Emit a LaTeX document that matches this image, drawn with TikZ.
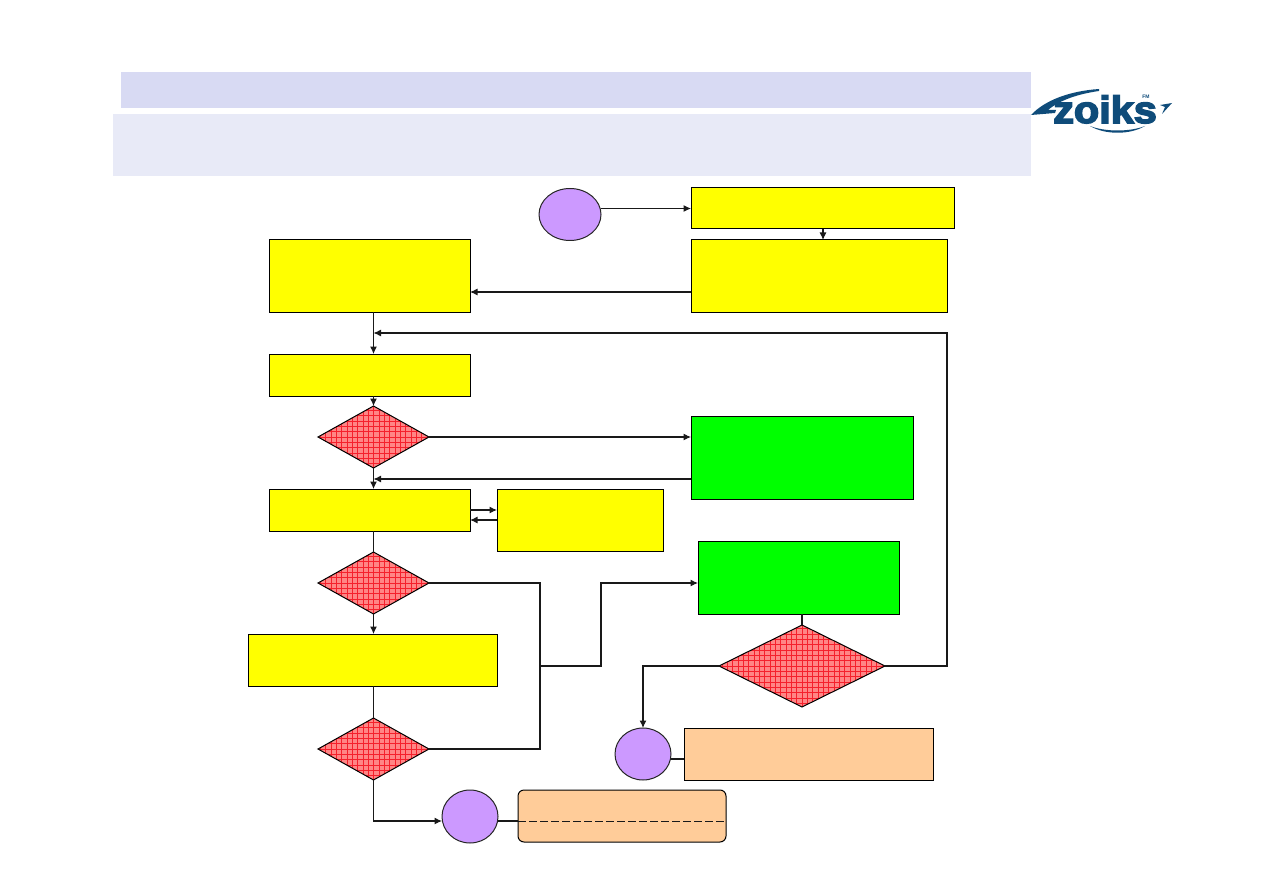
\documentclass[tikz,border=0pt]{standalone}
\usepackage{fontspec}
\setmainfont{Liberation Sans}
\newfontfamily\brandfont[FakeBold=4]{Liberation Sans Bold}
\usetikzlibrary{shapes.geometric,arrows.meta,calc}
\definecolor{bandA}{HTML}{D8DAF3}
\definecolor{bandB}{HTML}{E8EAF7}
\definecolor{logoblue}{HTML}{0F4C7A}
\definecolor{gatefill}{HTML}{FF8585}
\definecolor{gategrid}{HTML}{F5202C}
\definecolor{termfill}{HTML}{CC99FF}
\definecolor{notefill}{HTML}{FFCC99}
\definecolor{stepyellow}{HTML}{FFFF00}
\definecolor{stepgreen}{HTML}{00FF00}
\tikzset{
  x=1pt,y=-1pt,
  flowbox/.style={draw=black,line width=1pt,fill=stepyellow,inner sep=0,outer sep=0},
  actionbox/.style={flowbox,fill=stepgreen},
  notebox/.style={flowbox,fill=notefill},
  terminal/.style={ellipse,draw=black!85,line width=1pt,fill=termfill,inner sep=0,outer sep=0},
  gate/.style={diamond,draw=black,line width=1pt,fill=gatefill,inner sep=0,outer sep=0,
    path picture={
      \foreach \i in {-17,...,17}{
        \draw[gategrid,line width=0.6pt]
          ([xshift=\i*5.33pt]path picture bounding box.center) +(0,-45) -- +(0,45);
      }
      \foreach \i in {-9,...,9}{
        \draw[gategrid,line width=0.6pt]
          ([yshift=\i*5.33pt]path picture bounding box.center) +(-90,0) -- +(90,0);
      }
    }},
  flow/.style={draw=black!90,line width=1.05pt,-{Latex[length=7.5pt,width=7pt]}},
  link/.style={draw=black!90,line width=1.05pt},
}
\begin{document}
\begin{tikzpicture}
\useasboundingbox (0,0) rectangle (1263,893);

% title bands
\fill[bandA] (121,72) rectangle (1031,108);
\fill[bandB] (113,114) rectangle (1031,176);

% wordmark
\node[text=logoblue,inner sep=0,font=\brandfont\fontsize{38}{38}\selectfont,xscale=1.09,anchor=base] (brand) at (1105,123) {zoiks};
\node[text=logoblue,inner sep=0,font=\fontsize{5}{5}\selectfont\bfseries] (brandtag) at (1146,97) {FM};
\fill[logoblue] (1031,115) .. controls (1045,100) and (1070,91) .. (1099,89)
  -- (1099,91) .. controls (1078,94) and (1060,100) .. (1048,110)
  -- (1056,110) -- (1055,113) -- cycle;
\fill[logoblue] (1090,126) .. controls (1105,132) and (1130,132) .. (1145,126)
  .. controls (1130,135) and (1105,135) .. (1090,126) -- cycle;
\fill[logoblue] (1160,105) -- (1172,103) -- (1162,114) -- (1165,107) -- cycle;

% upper row
\node[terminal,minimum width=62pt,minimum height=52pt] (start) at (570,214.5) {};
\node[flowbox,minimum width=263pt,minimum height=41pt] (intake) at (822.5,208.5) {};
\node[flowbox,minimum width=256pt,minimum height=72pt] (review) at (819,276) {};
\node[flowbox,minimum width=201pt,minimum height=72pt] (assign) at (369.5,276) {};

% left column
\node[flowbox,minimum width=201pt,minimum height=42pt] (prepare) at (369.5,375) {};
\node[gate,minimum width=111pt,minimum height=62pt] (gateA) at (373.5,437) {};
\node[flowbox,minimum width=201pt,minimum height=42pt] (execute) at (369.5,510) {};
\node[flowbox,minimum width=166pt,minimum height=62pt] (support) at (580,520) {};
\node[gate,minimum width=111pt,minimum height=62pt] (gateB) at (373.5,583) {};
\node[flowbox,minimum width=249pt,minimum height=52pt] (verify) at (372.5,660) {};
\node[gate,minimum width=111pt,minimum height=62pt] (gateC) at (373.5,749) {};
\node[terminal,minimum width=56pt,minimum height=53pt] (endA) at (470,816.5) {};
\node[notebox,rounded corners=6pt,minimum width=208pt,minimum height=52pt] (noteA) at (622,816) {};

% right column
\node[actionbox,minimum width=222pt,minimum height=83pt] (fixA) at (802,457.5) {};
\node[actionbox,minimum width=201pt,minimum height=73pt] (fixB) at (798.5,577.5) {};
\node[gate,minimum width=166pt,minimum height=82pt] (gateD) at (802,666) {};
\node[terminal,minimum width=56pt,minimum height=52pt] (endB) at (643,754) {};
\node[notebox,minimum width=249pt,minimum height=52pt] (noteB) at (808.5,754) {};

% routing points
\coordinate (loop) at (947,333);
\coordinate (merge) at (540,666);
\coordinate (riseB) at (601,666);
\coordinate (rejoin) at (373.5,479);
\coordinate (loopin) at (373.5,333);

% connectors
\draw[flow] (start.east |- intake.west) -- (intake.west);
\draw[flow] (823,229) -- (823,240);
\draw[flow] (review.west |- 0,292) -- (assign.east |- 0,292);
\draw[flow] (373.5,312) -- (373.5,354);
\draw[flow] (gateD.east) -| (loop) -- (loopin);
\draw[flow] (373.5,396) -- (gateA.north);
\draw[flow] (gateA.east) -- (fixA.west |- gateA.east);
\draw[flow] (fixA.west |- rejoin) -- (rejoin);
\draw[flow] (gateA.south) -- (373.5,489);
\draw[flow] (execute.east |- 0,510) -- (support.west |- 0,510);
\draw[flow] (support.west |- 0,520) -- (execute.east |- 0,520);
\draw[link] (373.5,531) -- (gateB.north);
\draw[flow] (gateB.south) -- (373.5,634);
\draw[link] (gateB.east) -| (merge);
\draw[link] (gateC.east) -| (merge);
\draw[flow] (merge) -- (riseB) |- (fixB.west |- gateB.east);
\draw[link] (373.5,686) -- (gateC.north);
\draw[flow] (gateC.south) |- (endA.west |- 0,821);
\draw[link] (endA.east |- 0,821) -- (noteA.west |- 0,821);
\draw[link,dash pattern=on 8pt off 3pt,line width=0.9pt] (noteA.west |- 0,821) -- (noteA.east |- 0,821);
\draw[link] (fixB.south -| gateD.north) -- (gateD.north);
\draw[flow] (gateD.west) -| (endB.north);
\draw[link] (endB.east |- 0,759) -- (noteB.west |- 0,759);
\end{tikzpicture}
\end{document}
